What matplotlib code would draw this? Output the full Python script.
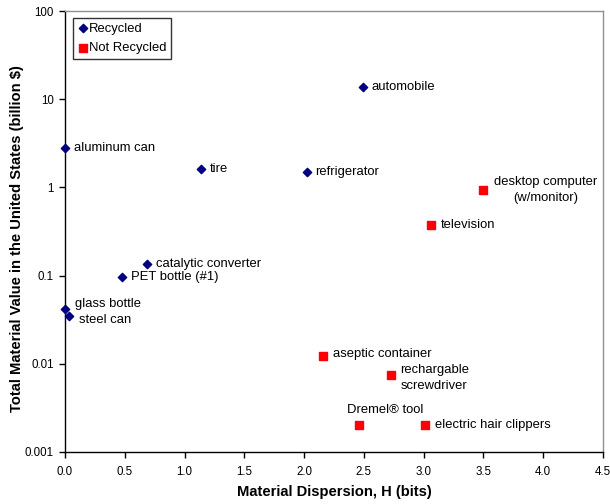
import matplotlib
matplotlib.use("Agg")
import matplotlib.pyplot as plt
from matplotlib.ticker import FixedLocator, NullLocator, FixedFormatter

plt.rcParams['font.family'] = ['Liberation Sans', 'DejaVu Sans']

rec_names = ["aluminum can", "automobile", "tire", "refrigerator", "catalytic converter",
             "PET bottle (#1)", "glass bottle", "steel can"]
rec_x = [0.0, 2.49, 1.14, 2.02, 0.69, 0.48, 0.0, 0.03]
rec_y = [2.8, 13.7, 1.62, 1.5, 0.135, 0.096, 0.042, 0.035]

non_names = ["desktop computer\n(w/monitor)", "television", "aseptic container",
             "rechargable\nscrewdriver", "Dremel® tool", "electric hair clippers"]
non_x = [3.50, 3.06, 2.16, 2.73, 2.46, 3.01]
non_y = [0.93, 0.375, 0.0123, 0.00746, 0.00202, 0.00202]

yticks = [0.001, 0.01, 0.1, 1, 10, 100]
ytick_labels = ["0.001", "0.01", "0.1", "1", "10", "100"]
xticks = [0.0, 0.5, 1.0, 1.5, 2.0, 2.5, 3.0, 3.5, 4.0, 4.5]

fig = plt.figure(figsize=(6.1, 5.04), dpi=100)
ax = fig.add_axes([65/610, 1-452/504, (603-65)/610, (452-11)/504])

ax.scatter(rec_x, rec_y, marker='D', s=18, color='#000080', label='Recycled', zorder=3, clip_on=False)
ax.scatter(non_x, non_y, marker='s', s=30, color='#FF0000', label='Not Recycled', zorder=3, clip_on=False)

ax.set_yscale('log')
ax.set_xlim(0, 4.5)
ax.set_ylim(0.001, 100)
ax.yaxis.set_major_locator(FixedLocator(yticks))
ax.yaxis.set_major_formatter(FixedFormatter(ytick_labels))
ax.yaxis.set_minor_locator(NullLocator())
ax.set_xticks(xticks)
ax.set_xticklabels([f"{v:.1f}" for v in xticks])
ax.tick_params(axis='both', direction='out', length=4, labelsize=8.3, width=1)
ax.tick_params(axis='y', pad=4)
ax.tick_params(axis='x', pad=6)

for s in ['left', 'bottom']:
    ax.spines[s].set_color('black')
    ax.spines[s].set_linewidth(1)
for s in ['top', 'right']:
    ax.spines[s].set_color('#909090')
    ax.spines[s].set_linewidth(1)

ax.set_xlabel("Material Dispersion, H (bits)", fontsize=10.6, fontweight='bold')
ax.set_ylabel("Total Material Value in the United States (billion $)", fontsize=10.6,
              fontweight='bold')
ax.xaxis.set_label_coords(0.5, (452-492)/441)
ax.yaxis.set_label_coords((17-65)/538, 0.485)
ax.xaxis.label.set_va('center')
ax.yaxis.label.set_va('center')

fs = 9.4
rec_offsets = [(9, 0, 'left'), (9, 0, 'left'), (9, 0, 'left'), (9, 0, 'left'),
               (9, 0, 'left'), (9, 0, 'left'), (10, 5, 'left'), (10, -4, 'left')]
for n, x, y, (dx, dy, ha) in zip(rec_names, rec_x, rec_y, rec_offsets):
    ax.annotate(n, (x, y), xytext=(dx, dy), textcoords='offset pixels',
                ha=ha, va='center', fontsize=fs)

non_offsets = [(62, 0, 'center'), (10, 0, 'left'), (10, 2, 'left'),
               (43, -3, 'center'), (26, 15, 'center'), (10, 0, 'left')]
for n, x, y, (dx, dy, ha) in zip(non_names, non_x, non_y, non_offsets):
    ax.annotate(n, (x, y), xytext=(dx, dy), textcoords='offset pixels',
                ha=ha, va='center', fontsize=fs, multialignment='center', linespacing=1.4)

leg = ax.legend(loc='upper left', bbox_to_anchor=(8/538, 1-7/441), fontsize=9.4,
                frameon=True, fancybox=False, handletextpad=0.05, handlelength=0.8,
                borderpad=0.35, labelspacing=0.55, borderaxespad=0)
leg.get_frame().set_edgecolor('black')
leg.get_frame().set_linewidth(1)

fig.savefig("out.png", dpi=100)
